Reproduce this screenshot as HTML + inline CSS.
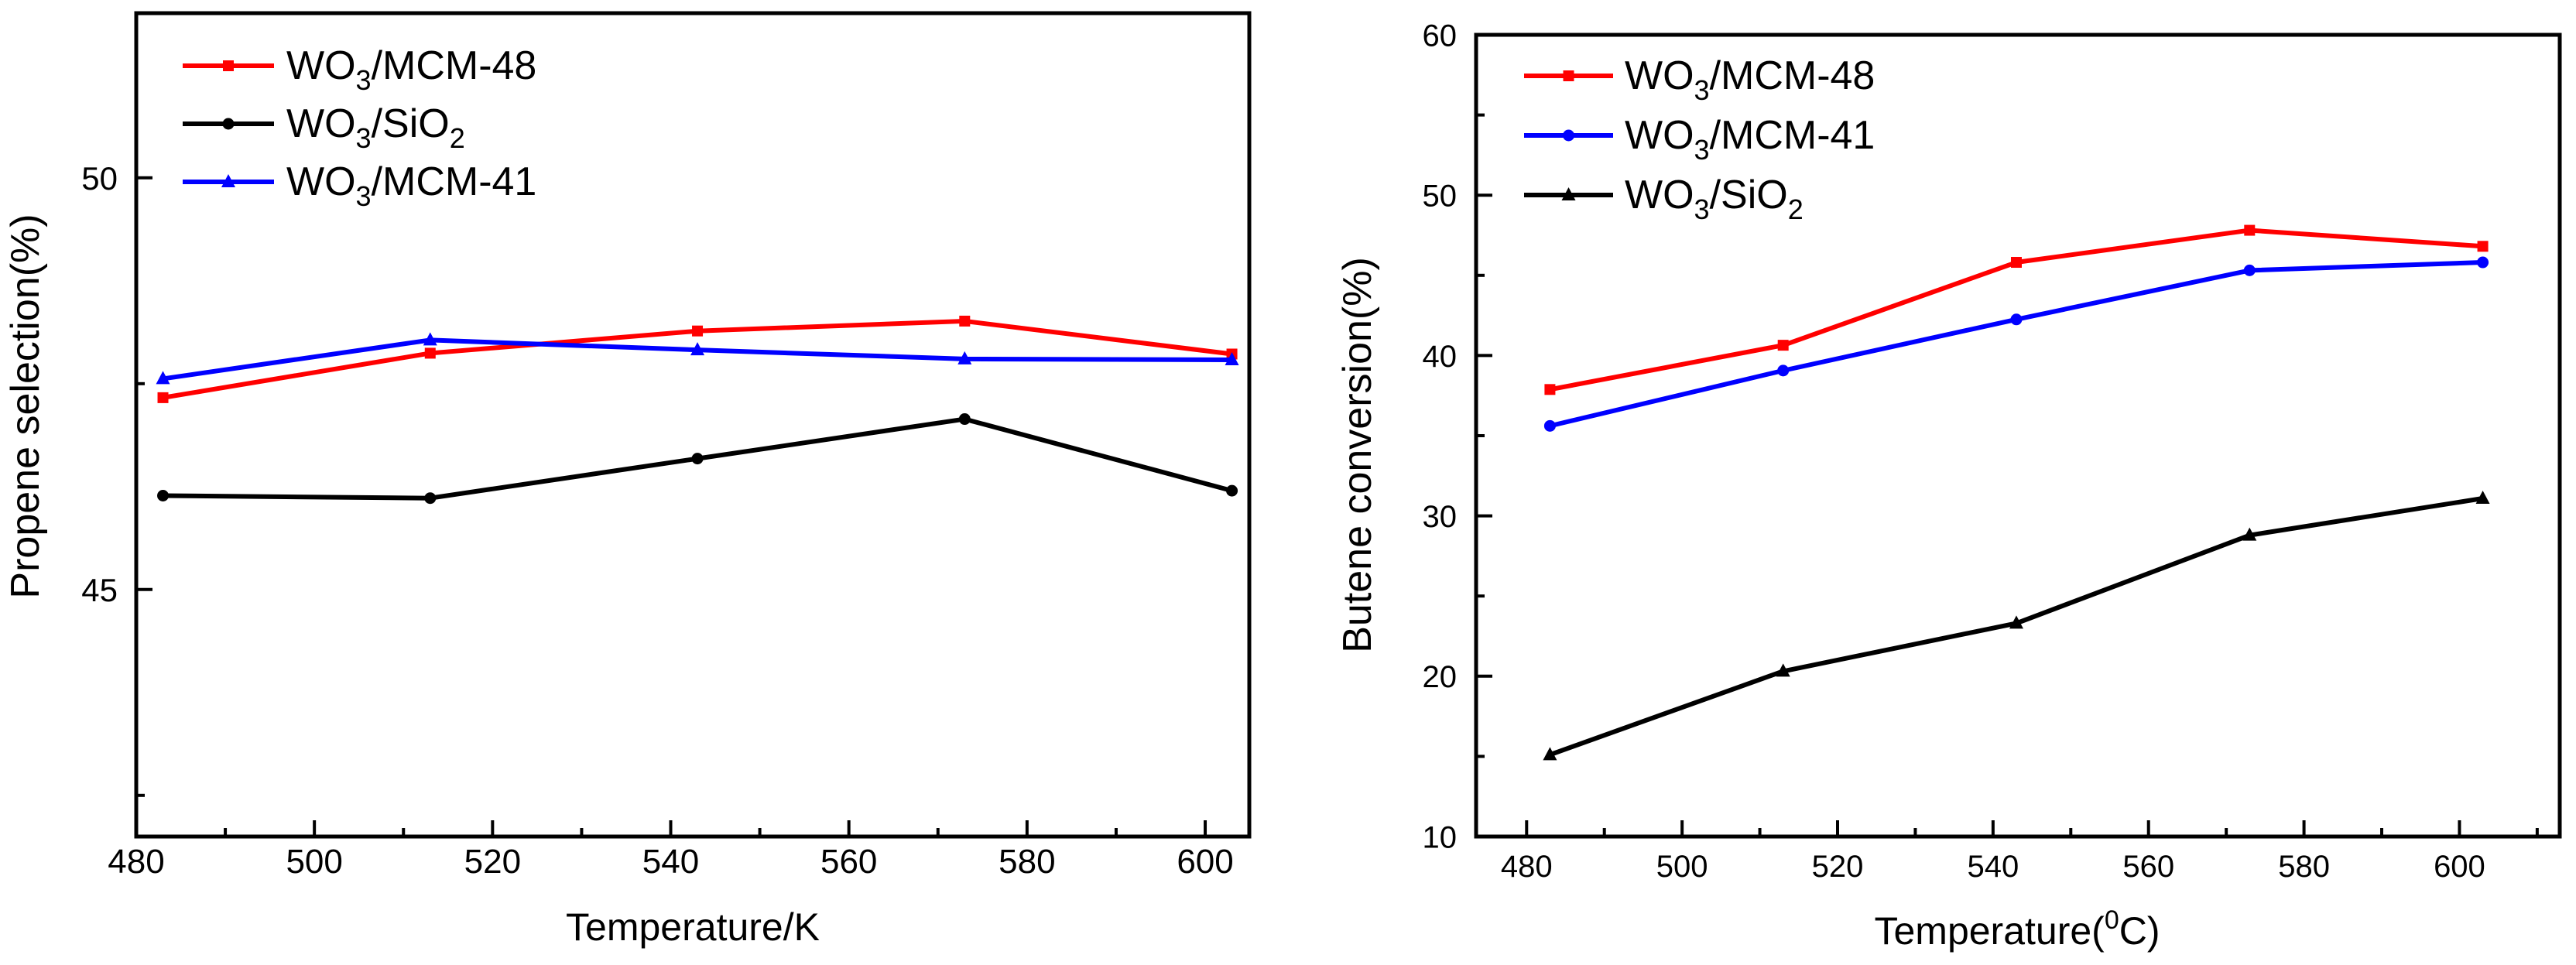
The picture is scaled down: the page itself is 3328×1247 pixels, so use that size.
<!DOCTYPE html>
<html><head><meta charset="utf-8"><style>
html,body{margin:0;padding:0;background:#fff;}
svg{display:block;font-family:"Liberation Sans",Arial,sans-serif;}
</style></head><body>
<svg id="chart" width="3328" height="1247" viewBox="0 0 3328 1247" xmlns="http://www.w3.org/2000/svg">
<rect x="0" y="0" width="3328" height="1247" fill="#fff"/>
<g id="left"></g>
<g id="right"></g>
</svg>
<script>
// Left chart data
const leftTemps = [483, 513, 543, 573, 603];
const leftMcm48 = [47.33, 47.87, 48.14, 48.26, 47.86];
const leftSio2 = [46.14, 46.11, 46.59, 47.07, 46.20];
const leftMcm41 = [47.56, 48.03, 47.91, 47.80, 47.79];
const leftXTicks = [480, 500, 520, 540, 560, 580, 600];
const leftYTicks = [45, 50];
// Right chart data
const rightTemps = [483, 513, 543, 573, 603];
const rightMcm48 = [37.88, 40.64, 45.81, 47.81, 46.81];
const rightMcm41 = [35.61, 39.06, 42.25, 45.31, 45.81];
const rightSio2 = [15.10, 20.31, 23.30, 28.79, 31.09];
const rightXTicks = [480, 500, 520, 540, 560, 580, 600];
const rightYTicks = [10, 20, 30, 40, 50, 60];

const NS = "http://www.w3.org/2000/svg";
function mk(tag, attrs, parent) {
  const e = document.createElementNS(NS, tag);
  for (const k in attrs) e.setAttribute(k, attrs[k]);
  parent.appendChild(e);
  return e;
}
function marker(g, type, x, y, color) {
  let m;
  if (type === 'square') m = mk('rect', {x: x - 7, y: y - 7, width: 14, height: 14, fill: color}, g);
  else if (type === 'circle') m = mk('circle', {cx: x, cy: y, r: 7.5, fill: color}, g);
  else m = mk('polygon', {points: `${x},${y - 10} ${x - 9},${y + 7} ${x + 9},${y + 7}`, fill: color}, g);
  return m;
}
function drawChart(g, cfg) {
  const sx = v => cfg.x0 + (v - cfg.xmin) / (cfg.xmax - cfg.xmin) * (cfg.x1 - cfg.x0);
  const sy = v => cfg.y1 - (v - cfg.ymin) / (cfg.ymax - cfg.ymin) * (cfg.y1 - cfg.y0);
  cfg.xMinor.forEach(v => {
    const t = mk('line', {x1: sx(v), x2: sx(v), y1: cfg.y1, y2: cfg.y1 - 11, stroke: '#000', 'stroke-width': 4}, g);
    
    
  });
  cfg.xTicks.forEach(v => {
    const t = mk('line', {x1: sx(v), x2: sx(v), y1: cfg.y1, y2: cfg.y1 - 21, stroke: '#000', 'stroke-width': 4}, g);
    
    
    const l = mk('text', {x: sx(v), y: cfg.xLabelY, 'font-size': cfg.tickFont, 'text-anchor': 'middle', fill: '#000'}, g);
    l.textContent = v;
    
    
  });
  cfg.yMinor.forEach(v => {
    const t = mk('line', {x1: cfg.x0, x2: cfg.x0 + 11, y1: sy(v), y2: sy(v), stroke: '#000', 'stroke-width': 4}, g);
    
    
  });
  cfg.yTicks.forEach(v => {
    const t = mk('line', {x1: cfg.x0, x2: cfg.x0 + 21, y1: sy(v), y2: sy(v), stroke: '#000', 'stroke-width': 4}, g);
    
    
    const l = mk('text', {x: cfg.yLabelX, y: sy(v) + cfg.yTickFont * 0.36, 'font-size': cfg.yTickFont, 'text-anchor': 'end', fill: '#000'}, g);
    l.textContent = v;
    
    
  });
  cfg.series.forEach(s => {
    const sg = mk('g', {}, g);
    
    
    const pts = s.xs.map((x, i) => sx(x) + ',' + sy(s.ys[i])).join(' ');
    const pl = mk('polyline', {points: pts, fill: 'none', stroke: s.color, 'stroke-width': 6, 'stroke-linejoin': 'round'}, sg);
    
    
    s.xs.forEach((x, i) => {
      const m = marker(sg, s.marker, sx(x), sy(s.ys[i]), s.color);
      
      
    });
  });
  const fr = mk('rect', {x: cfg.x0, y: cfg.y0, width: cfg.x1 - cfg.x0, height: cfg.y1 - cfg.y0, fill: 'none', stroke: '#000', 'stroke-width': 5}, g);
  
  
  cfg.series.forEach((s, i) => {
    const lg = mk('g', {}, g);
    
    
    const ly = cfg.legY[i];
    mk('line', {x1: cfg.legX0, x2: cfg.legX1, y1: ly, y2: ly, stroke: s.color, 'stroke-width': 6}, lg);
    marker(lg, s.marker, (cfg.legX0 + cfg.legX1) / 2, ly, s.color);
    const t = mk('text', {x: cfg.legTextX, y: ly + 17, 'font-size': 52, fill: '#000'}, lg);
    t.innerHTML = s.label;
  });
  const xt = mk('text', {x: cfg.xTitleX, y: cfg.xTitleY, 'font-size': 50, 'text-anchor': 'middle', fill: '#000'}, g);
  xt.innerHTML = cfg.xTitle;
  
  
  const yt = mk('text', {x: 0, y: 0, 'font-size': 52, 'text-anchor': 'middle', fill: '#000', transform: `translate(${cfg.yTitleX},${cfg.yTitleY}) rotate(-90)`}, g);
  yt.textContent = cfg.yTitle;
  
  
}

const sub = (a) => `<tspan font-size="36" dy="14">${a}</tspan><tspan dy="-14">`;
drawChart(document.getElementById('left'), {
  x0: 176, x1: 1614, y0: 17, y1: 1081, xmin: 480, xmax: 604.95, ymin: 42, ymax: 52,
  xTicks: leftXTicks, xMinor: [490, 510, 530, 550, 570, 590],
  yTicks: leftYTicks, yMinor: [42.5, 47.5],
  tickFont: 44, yTickFont: 42, xLabelY: 1128, yLabelX: 152,
  legX0: 236, legX1: 354, legTextX: 370, legY: [85, 160, 235],
  xTitle: 'Temperature/K', xTitleX: 895, xTitleY: 1215,
  yTitle: 'Propene selection(%)', yTitleX: 50, yTitleY: 525,
  series: [
    {name: 'wo3-mcm48-series', color: '#ff0000', marker: 'square', xs: leftTemps, ys: leftMcm48, label: 'WO' + sub('3') + '/MCM-48</tspan>'},
    {name: 'wo3-sio2-series', color: '#000000', marker: 'circle', xs: leftTemps, ys: leftSio2, label: 'WO' + sub('3') + '/SiO' + '<tspan font-size="36" dy="14">2</tspan></tspan>'},
    {name: 'wo3-mcm41-series', color: '#0000ff', marker: 'triangle', xs: leftTemps, ys: leftMcm41, label: 'WO' + sub('3') + '/MCM-41</tspan>'}
  ]
});
drawChart(document.getElementById('right'), {
  x0: 1907, x1: 3307, y0: 45, y1: 1081, xmin: 473.5, xmax: 612.9, ymin: 10, ymax: 60,
  xTicks: rightXTicks, xMinor: [490, 510, 530, 550, 570, 590, 610],
  yTicks: rightYTicks, yMinor: [15, 25, 35, 45, 55],
  tickFont: 40, yTickFont: 40, xLabelY: 1133, yLabelX: 1882,
  legX0: 1969, legX1: 2084, legTextX: 2099, legY: [98, 175, 252],
  xTitle: 'Temperature(<tspan font-size="34" dy="-20">0</tspan><tspan dy="20">C)</tspan>', xTitleX: 2606, xTitleY: 1220,
  yTitle: 'Butene conversion(%)', yTitleX: 1771, yTitleY: 588,
  series: [
    {name: 'wo3-mcm48-series', color: '#ff0000', marker: 'square', xs: rightTemps, ys: rightMcm48, label: 'WO' + sub('3') + '/MCM-48</tspan>'},
    {name: 'wo3-mcm41-series', color: '#0000ff', marker: 'circle', xs: rightTemps, ys: rightMcm41, label: 'WO' + sub('3') + '/MCM-41</tspan>'},
    {name: 'wo3-sio2-series', color: '#000000', marker: 'triangle', xs: rightTemps, ys: rightSio2, label: 'WO' + sub('3') + '/SiO' + '<tspan font-size="36" dy="14">2</tspan></tspan>'}
  ]
});
</script>
</body></html>
